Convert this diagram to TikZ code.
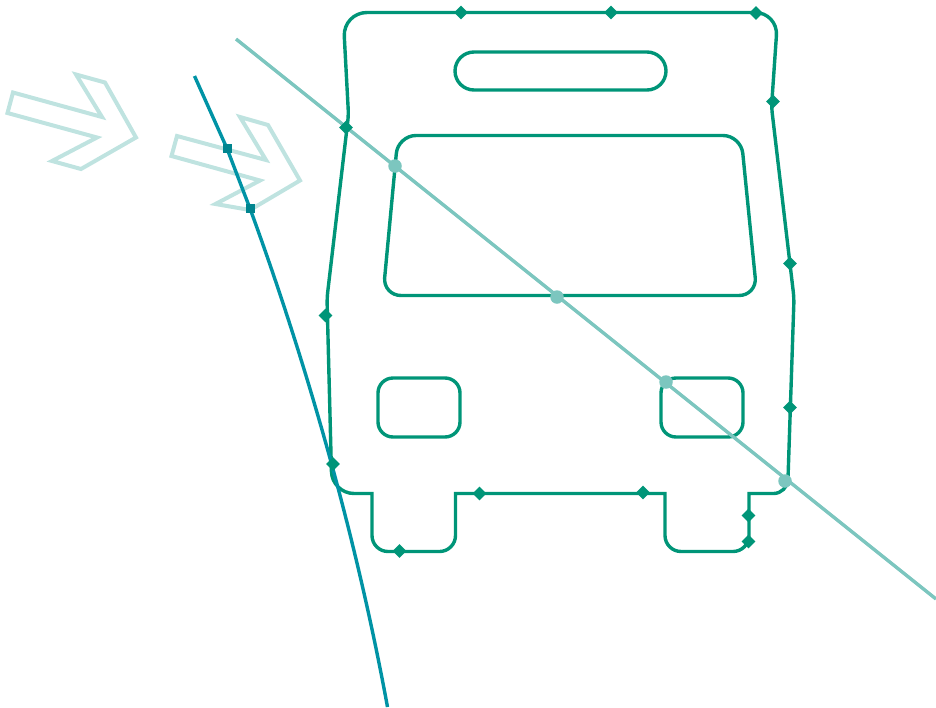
\documentclass[tikz,border=0pt]{standalone}
\usepackage{xcolor}
\usetikzlibrary{shapes.geometric}
\definecolor{busgreen}{HTML}{009578}
\definecolor{linelight}{HTML}{7CC6BF}
\definecolor{lineblue}{HTML}{0093A5}
\definecolor{sqblue}{HTML}{00858F}
\definecolor{chevlight}{HTML}{BFE3E0}
\tikzset{
  busline/.style={draw=busgreen, line width=3.4pt},
  chevron/.style={draw=chevlight, line width=4pt, miter limit=10},
  vtxdiamond/.style={diamond, fill=busgreen, inner sep=0pt, minimum size=14pt},
  vtxsquare/.style={rectangle, fill=sqblue, inner sep=0pt, minimum size=9pt},
  vtxdot/.style={circle, fill=linelight, inner sep=0pt, minimum size=13.5pt},
}

\begin{document}
\begin{tikzpicture}[x=1pt, y=-1pt]
  \useasboundingbox (0,0) rectangle (936,707);
  % setas
  \draw[chevron] (13,92.5) -- (102,117) -- (76,74.5) -- (105,82.5) -- (136,137.5)
    -- (81,169) -- (52,161) -- (97,137.5) -- (7.5,113) -- cycle;
  \draw[chevron] (177,136) -- (266,160) -- (240,117) -- (268,125) -- (300,180.5)
    -- (250,210) -- (215.5,204) -- (260,180.5) -- (171.5,156) -- cycle;
  % contorno do onibus
  \draw[busline] (560,12.5)
    [rounded corners=23pt] -- (778,12.5)
    [rounded corners=6pt] -- (771.5,107) -- (794,298)
    [rounded corners=14pt] -- (787.5,493.5)
    [sharp corners] -- (749,493.5)
    [rounded corners=16pt] -- (749,551.5) -- (665,551.5)
    [sharp corners] -- (665,493.5) -- (455.5,493.5)
    [rounded corners=16pt] -- (455.5,551.5) -- (372,551.5)
    [sharp corners] -- (372,493.5)
    [rounded corners=22pt] -- (332,493.5)
    [rounded corners=6pt] -- (327,298) -- (348.5,115)
    [rounded corners=24pt] -- (343,12.5) -- (560,12.5);
  % janelas e farois
  \draw[busline, rounded corners=19pt] (455,52) rectangle (666,90);
  \draw[busline, rounded corners=18pt] (398,135.5) -- (741,135.5) -- (757,295.5)
    -- (383,295.5) -- cycle;
  \draw[busline, rounded corners=15pt] (378,378) rectangle (460,437);
  \draw[busline, rounded corners=15pt] (661,378) rectangle (743,437);
  % marcas
  \node[vtxsquare] (sqA) at (227,148.5) {};
  \node[vtxsquare] (sqB) at (250,208.5) {};
  \coordinate (blueA) at (194.5,76);
  \coordinate (blueB) at (387.5,707);
  \draw[lineblue, line width=3.4pt] (blueA) -- (sqA.center) -- (sqB.center)
    .. controls (300,345) and (353,520) .. (blueB);
  \coordinate (lightA) at (236,39);
  \coordinate (lightB) at (936,599);
  \draw[linelight, line width=3.4pt] (lightA) -- (lightB);
  \node[vtxsquare] at (sqA) {};
  \node[vtxsquare] at (sqB) {};
  \node[vtxdiamond] (dmA) at (461,12.5) {};
  \node[vtxdiamond] (dmB) at (611,12.5) {};
  \node[vtxdiamond] (dmC) at (756,13) {};
  \node[vtxdiamond] (dmD) at (773,101.5) {};
  \node[vtxdiamond] (dmE) at (790,263.5) {};
  \node[vtxdiamond] (dmF) at (790,407.5) {};
  \node[vtxdiamond] (dmG) at (748.5,515.5) {};
  \node[vtxdiamond] (dmH) at (748.5,541.5) {};
  \node[vtxdiamond] (dmI) at (643,492.5) {};
  \node[vtxdiamond] (dmJ) at (479.5,493.5) {};
  \node[vtxdiamond] (dmK) at (399.5,551) {};
  \node[vtxdiamond] (dmL) at (333,464) {};
  \node[vtxdiamond] (dmM) at (325.5,315.5) {};
  \node[vtxdiamond] (dmN) at (346,127.5) {};
  \node[vtxdot] (dotA) at (395,166) {};
  \node[vtxdot] (dotB) at (557,297) {};
  \node[vtxdot] (dotC) at (666,382) {};
  \node[vtxdot] (dotD) at (785,481) {};
\end{tikzpicture}
\end{document}
